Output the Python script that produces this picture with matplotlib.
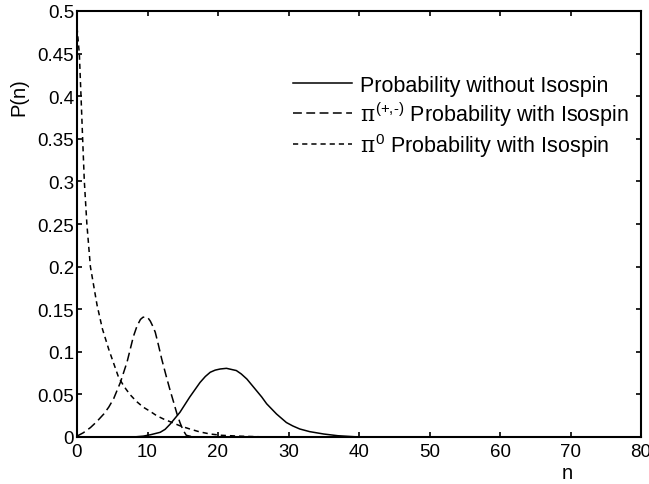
import matplotlib
matplotlib.use("Agg")
import matplotlib.pyplot as plt

# values
n_pi0 = [0, 0.33, 0.57, 0.8, 1.04, 1.4, 1.9, 2.84, 3.6, 4.5, 5.9, 6.7, 7.5, 8.4, 9.4,
         10.4, 11.3, 12.3, 13.2, 14.5, 16, 17.4, 18.9, 20.5, 23, 27]
p_pi0 = [0.481, 0.45, 0.40, 0.35, 0.30, 0.25, 0.20, 0.155, 0.127, 0.103, 0.07, 0.059,
         0.05, 0.042, 0.035, 0.030, 0.025, 0.021, 0.018, 0.0135, 0.0094, 0.006,
         0.0035, 0.002, 0.001, 0.0]

n_pipm = [0, 0.9, 1.9, 2.8, 3.8, 4.5, 5.2, 6.15, 7.1, 8.0, 8.5, 9.0, 9.35, 9.7, 10.05,
          10.4, 10.75, 11.1, 11.55, 12.0, 12.7, 13.2, 13.7, 14.15, 14.6, 15.05, 15.5,
          16.5]
p_pipm = [0.001, 0.005, 0.011, 0.018, 0.027, 0.035, 0.045, 0.064, 0.088, 0.118, 0.13,
          0.138, 0.1405, 0.141, 0.14, 0.136, 0.13, 0.123, 0.108, 0.092, 0.07, 0.055,
          0.041, 0.028, 0.017, 0.008, 0.002, 0.0]

n_noiso = [8, 9.4, 10.5, 11.8, 12.5, 13.2, 14.6, 15.3, 16, 17.45, 18.2, 18.9, 19.6,
           20.3, 21.2, 22.6, 23.3, 24.1, 24.8, 25.5, 26.2, 26.9, 27.6, 28.3, 29,
           29.7, 30.6, 31.6, 33, 35, 37, 40]
p_noiso = [0, 0.001, 0.0028, 0.0055, 0.009, 0.015, 0.029, 0.038, 0.047, 0.064, 0.071,
           0.076, 0.0785, 0.0798, 0.0806, 0.078, 0.074, 0.068, 0.061, 0.054, 0.047,
           0.039, 0.033, 0.027, 0.022, 0.017, 0.013, 0.0094, 0.0063, 0.0035, 0.0015,
           0.0]

labels = ["Probability without Isospin",
          r"$\pi^{\text{(+,-)}}$ Probability with Isospin",
          r"$\pi^{\text{0}}$ Probability with Isospin"]

plt.rcParams["font.family"] = ["Liberation Sans", "DejaVu Sans"]
plt.rcParams["mathtext.fontset"] = "custom"
plt.rcParams["mathtext.rm"] = "Liberation Sans"
plt.rcParams["mathtext.it"] = "DejaVu Serif"

fig = plt.figure(figsize=(6.49, 4.85), dpi=100)
ax = fig.add_axes([77 / 649, 47 / 485, 564 / 649, 426 / 485])

ax.plot(n_noiso, p_noiso, color="black", lw=1.1, label=labels[0])
ax.plot(n_pipm, p_pipm, color="black", lw=1.1, dashes=(5.8, 2.9), label=labels[1])
ax.plot(n_pi0, p_pi0, color="black", lw=1.1, dashes=(3.4, 2.6), label=labels[2])

ax.set_xlim(0, 80)
ax.set_ylim(0, 0.5)
ax.set_xticks(range(0, 81, 10))
ax.set_yticks([0, 0.05, 0.1, 0.15, 0.2, 0.25, 0.3, 0.35, 0.4, 0.45, 0.5])
ax.set_yticklabels(["0", "0.05", "0.1", "0.15", "0.2", "0.25", "0.3", "0.35",
                    "0.4", "0.45", "0.5"])
ax.tick_params(direction="in", length=3.6, width=1.2, top=True, right=True,
               labelsize=13.5)
ax.tick_params(axis="y", pad=2)
ax.tick_params(axis="x", pad=4)
for s in ax.spines.values():
    s.set_linewidth(1.5)

ax.set_xlabel("n", fontsize=14.5)
ax.xaxis.set_label_coords(0.869, -0.06)
ax.set_ylabel("P(n)", fontsize=14.5)
ax.yaxis.set_label_coords(-0.087, 0.80)

ax.legend(loc="upper left", bbox_to_anchor=(293 / 649, 1 - 76 / 485),
          bbox_transform=fig.transFigure, frameon=False, fontsize=15.5,
          handlelength=2.74, handletextpad=0.37, borderpad=0, labelspacing=0.15,
          borderaxespad=0)

fig.savefig("out.png", dpi=100)
